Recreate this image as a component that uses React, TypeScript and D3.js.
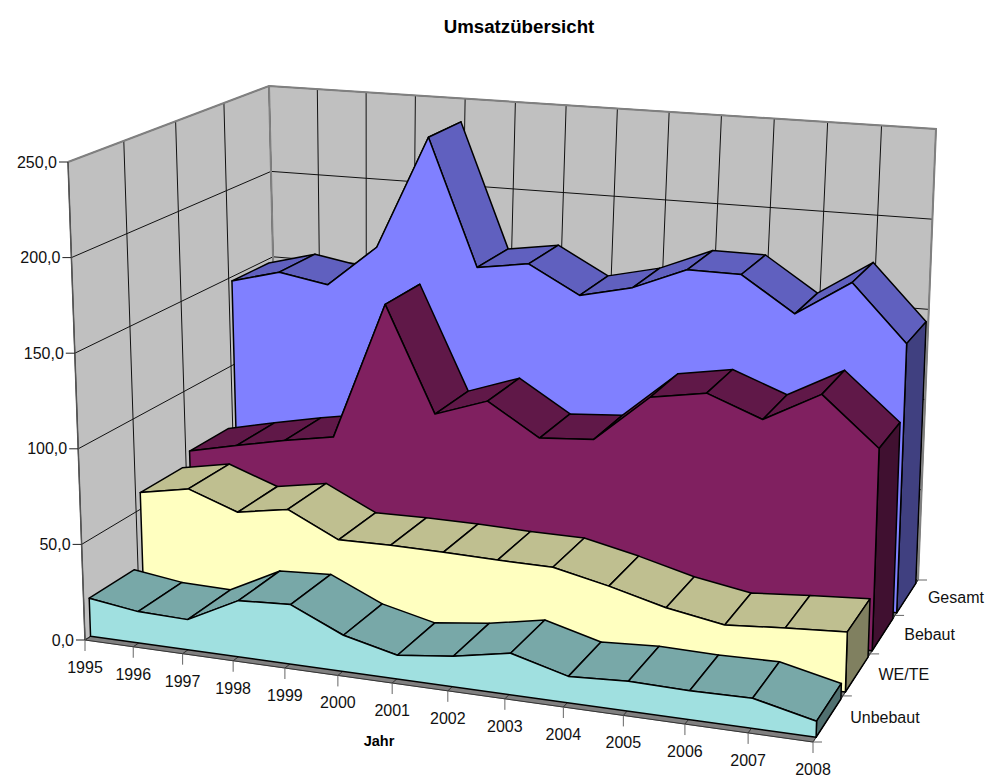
import React from "react";
import * as d3 from "d3";

const years = ["1995","1996","1997","1998","1999","2000","2001","2002","2003","2004","2005","2006","2007","2008"];
const seriesNames = ["Unbebaut","WE/TE","Bebaut","Gesamt"];
const unbebaut = [20,16.4,15.7,29,30.5,18.4,12,15.3,20.6,13,14.6,14,14.5,7.7];
const weTe = [58.9,63.8,54.3,58.9,45.9,46.2,45.9,45.1,44.8,38.5,31,25.9,28.2,30];
const bebaut = [65.7,71.5,77,81.7,157,99.8,109.6,92.5,94.6,120,125,114,130,104.8];
const gesamt = [147.6,154.9,150,173.5,237.6,166.7,171,155.8,162.5,174.7,174.5,155.5,175,144.6];
const seriesValues = [unbebaut, weTe, bebaut, gesamt];
const yTicks = [0,50,100,150,200,250];
const frontColors = ["#A0E0E0","#FFFFC0","#802060","#8080FF"];
const topColors = ["#78A8A8","#BFBF90","#601848","#6060BF"];
const sideColors = ["#507070","#808060","#401030","#404080"];

type P = [number, number];
// Screen corners of the box: front-left, front-right, back-right, back-left
const floorQuad: P[] = [[85,640],[813,742],[918,580],[279,513]];
const topQuad: P[] = [[68,162],[829,218],[936,129],[269,86]];

function homography(q: P[]) {
  const [[x0,y0],[x1,y1],[x2,y2],[x3,y3]] = q;
  const dx1=x1-x2, dx2=x3-x2, dx3=x0-x1+x2-x3;
  const dy1=y1-y2, dy2=y3-y2, dy3=y0-y1+y2-y3;
  const den=dx1*dy2-dx2*dy1;
  const g=(dx3*dy2-dx2*dy3)/den, h=(dx1*dy3-dx3*dy1)/den;
  const a=x1-x0+g*x1, b=x3-x0+h*x3, c=x0;
  const d=y1-y0+g*y1, e=y3-y0+h*y3, f=y0;
  return (u:number,v:number):P=>{
    const w=g*u+h*v+1;
    return [(a*u+b*v+c)/w,(d*u+e*v+f)/w];
  };
}
const floorH = homography(floorQuad);
const topH = homography(topQuad);

const xScale = d3.scalePoint<string>().domain(years).range([0,1]);
const yScale = d3.scaleLinear().domain([0,250]).range([0,1]);
const zScale = d3.scaleBand<string>().domain(seriesNames).range([0,1]).paddingInner(0.16).paddingOuter(0.1);

function project(u:number,d:number,v:number):P{
  const a=floorH(u,d), b=topH(u,d);
  return [a[0]+(b[0]-a[0])*v,a[1]+(b[1]-a[1])*v];
}
const poly=(pts:P[])=>d3.line()(pts)+"Z";
const seg=(a:P,b:P)=>d3.line()([a,b])!;

export default function App(){
  const wallBack=[project(0,1,0),project(1,1,0),project(1,1,1),project(0,1,1)];
  const wallLeft=[project(0,0,0),project(0,1,0),project(0,1,1),project(0,0,1)];
  const floor=[project(0,0,0),project(1,0,0),project(1,1,0),project(0,1,0)];
  const depths=[0,0.25,0.5,0.75,1];
  const grid:string[]=[];
  yTicks.forEach(t=>{
    const v=yScale(t);
    grid.push(d3.line()([project(0,0,v),project(0,1,v),project(1,1,v)])!);
  });
  years.forEach(y=>{
    const u=xScale(y)!;
    grid.push(seg(project(u,1,0),project(u,1,1)));
  });
  depths.forEach(d=>grid.push(seg(project(0,d,0),project(0,d,1))));
  const floorGrid:string[]=[];
  years.forEach(y=>{const u=xScale(y)!;floorGrid.push(seg(project(u,0,0),project(u,1,0)));});
  depths.forEach(d=>floorGrid.push(seg(project(0,d,0),project(1,d,0))));

  const marks=seriesNames.map((name,i)=>({name,i,d0:zScale(name)!,d1:zScale(name)!+zScale.bandwidth(),vals:seriesValues[i]})).reverse();
  const font="'Liberation Sans', Arial, sans-serif";
  return (
    <svg width={990} height={776} style={{position:"absolute",left:0,top:0}} fontFamily={font}>
      <rect width={990} height={776} fill="#fff"/>
      <text x={519} y={33} textAnchor="middle" fontSize={18.7} fontWeight="bold" fill="#000">Umsatzübersicht</text>
      <path d={poly(wallLeft)} fill="#C0C0C0"/>
      <path d={poly(wallBack)} fill="#C0C0C0"/>
      <path d={poly(floor)} fill="#808080" stroke="#808080" strokeWidth={1}/>
      {grid.map((g,i)=><path key={i} d={g} fill="none" stroke="#111" strokeWidth={1}/>)}
      {floorGrid.map((g,i)=><path key={"f"+i} d={g} fill="none" stroke="#333" strokeWidth={1}/>)}
      <path d={d3.line()([project(0,0,1),project(0,1,1),project(1,1,1),project(1,1,0)])!} fill="none" stroke="#808080" strokeWidth={2}/>
      <path d={seg(project(0,1,0),project(0,1,1))} fill="none" stroke="#808080" strokeWidth={2}/>
      <path d={seg(project(0,0,0),project(0,0,1))} fill="none" stroke="#555" strokeWidth={1.5}/>
      {marks.map(m=>{
        const front=years.map((y,k)=>project(xScale(y)!,m.d0,yScale(m.vals[k])));
        const back=years.map((y,k)=>project(xScale(y)!,m.d1,yScale(m.vals[k])));
        const frontBase=[project(0,m.d0,0),project(1,m.d0,0)];
        const backBase=project(1,m.d1,0);
        const last=years.length-1;
        return (
          <g key={m.name} stroke="#000" strokeWidth={1.5} strokeLinejoin="round">
            {years.slice(0,last).map((y,k)=>(
              <path key={y} d={poly([front[k],front[k+1],back[k+1],back[k]])} fill={topColors[m.i]}/>
            ))}
            <path d={poly([frontBase[1],backBase,back[last],front[last]])} fill={sideColors[m.i]}/>
            <path d={poly([frontBase[0],...front,frontBase[1]])} fill={frontColors[m.i]}/>
          </g>
        );
      })}
      {yTicks.map(t=>{
        const p=project(0,0,yScale(t));
        return <g key={t}>
          <path d={seg(p,[p[0]-9,p[1]])} stroke="#222" strokeWidth={1}/>
          <text x={p[0]-11} y={p[1]+5.5} textAnchor="end" fontSize={16} fill="#111">{d3.format(".1f")(t).replace(".",",")}</text>
        </g>;
      })}
      {years.map(y=>{
        const p=project(xScale(y)!,0,0);
        return <g key={y}>
          <path d={seg(p,[p[0],p[1]+11])} stroke="#666" strokeWidth={1}/>
          <text x={p[0]} y={p[1]+33} textAnchor="middle" fontSize={16} fill="#111">{y}</text>
        </g>;
      })}
      {depths.map(d=>{
        const p=project(1,d,0);
        return <path key={d} d={seg(p,[p[0]+9,p[1]])} stroke="#666" strokeWidth={1}/>;
      })}
      {seriesNames.map(n=>{
        const p=project(1,zScale(n)!+zScale.bandwidth()/2,0);
        return <text key={n} x={p[0]+21.5} y={p[1]+5.5} fontSize={16} fill="#111">{n}</text>;
      })}
      <text x={379} y={746} textAnchor="middle" fontSize={14.5} fontWeight="bold" fill="#000">Jahr</text>
    </svg>
  );
}
